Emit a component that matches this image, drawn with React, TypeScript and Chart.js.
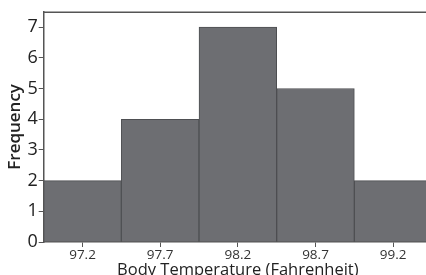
import React, { useEffect, useRef } from "react";
import { Chart, registerables } from "chart.js";
Chart.register(...registerables);

const categories = ["97.2", "97.7", "98.2", "98.7", "99.2"];
const frequencies = [2, 4, 7, 5, 2];
const yTicks = [0, 1, 2, 3, 4, 5, 6, 7];
const xTitle = "Body Temperature (Fahrenheit)";
const yTitle = "Frequency";

const FONT = "'Open Sans', 'Noto Sans', sans-serif";

const topBorder = {
  id: "topBorder",
  afterDraw(chart: any) {
    const { ctx, chartArea } = chart;
    ctx.save();
    ctx.strokeStyle = "#555555";
    ctx.lineWidth = 1.5;
    ctx.beginPath();
    ctx.moveTo(chartArea.left, chartArea.top + 0.5);
    ctx.lineTo(chart.width, chartArea.top + 0.5);
    ctx.stroke();
    ctx.restore();
  },
};

export default function App() {
  const ref = useRef<HTMLCanvasElement>(null);
  useEffect(() => {
    document.body.style.margin = "0";
    document.body.style.overflow = "hidden";
    const chart = new Chart(ref.current!, {
      type: "bar",
      data: {
        labels: categories,
        datasets: [
          {
            data: frequencies,
            backgroundColor: "#6d6e72",
            borderColor: "#4e4f52",
            borderWidth: 1,
            barPercentage: 1,
            categoryPercentage: 1,
          },
        ],
      },
      options: {
        animation: false,
        responsive: false,
        layout: { padding: { top: 9, right: 0, left: 5, bottom: 0 } },
        plugins: { legend: { display: false }, tooltip: { enabled: false } },
        scales: {
          x: {
            grid: {
              offset: false,
              drawOnChartArea: false,
              drawTicks: true,
              tickLength: 5,
              color: "#555555",
            },
            border: { display: true, color: "#555555", width: 1.5 },
            ticks: {
              color: "#333333",
              font: { family: FONT, size: 13.5, lineHeight: 1.05 },
              padding: 1,
              maxRotation: 0,
            },
            title: {
              display: true,
              text: xTitle,
              color: "#222222",
              font: { family: FONT, size: 16.5, weight: "500" },
              padding: { top: -3, bottom: 0 },
            },
          },
          y: {
            min: 0,
            max: 7.5,
            afterBuildTicks: (scale: any) => {
              scale.ticks = yTicks.map((v) => ({ value: v }));
            },
            grid: {
              drawOnChartArea: false,
              drawTicks: true,
              tickLength: 5,
              color: "#555555",
            },
            border: { display: true, color: "#555555", width: 1.5 },
            ticks: { color: "#222222", font: { family: FONT, size: 18 }, padding: 1 },
            title: {
              display: true,
              text: yTitle,
              color: "#222222",
              font: { family: FONT, size: 17, weight: "600" },
              padding: { top: 0, bottom: 1 },
            },
          },
        },
      },
      plugins: [topBorder],
    });
    return () => chart.destroy();
  }, []);
  return (
    <div style={{ position: "absolute", left: 0, top: 0, width: 432, height: 280, overflow: "hidden" }}>
      <canvas ref={ref} width={432} height={280} style={{ width: 432, height: 280 }} />
    </div>
  );
}
